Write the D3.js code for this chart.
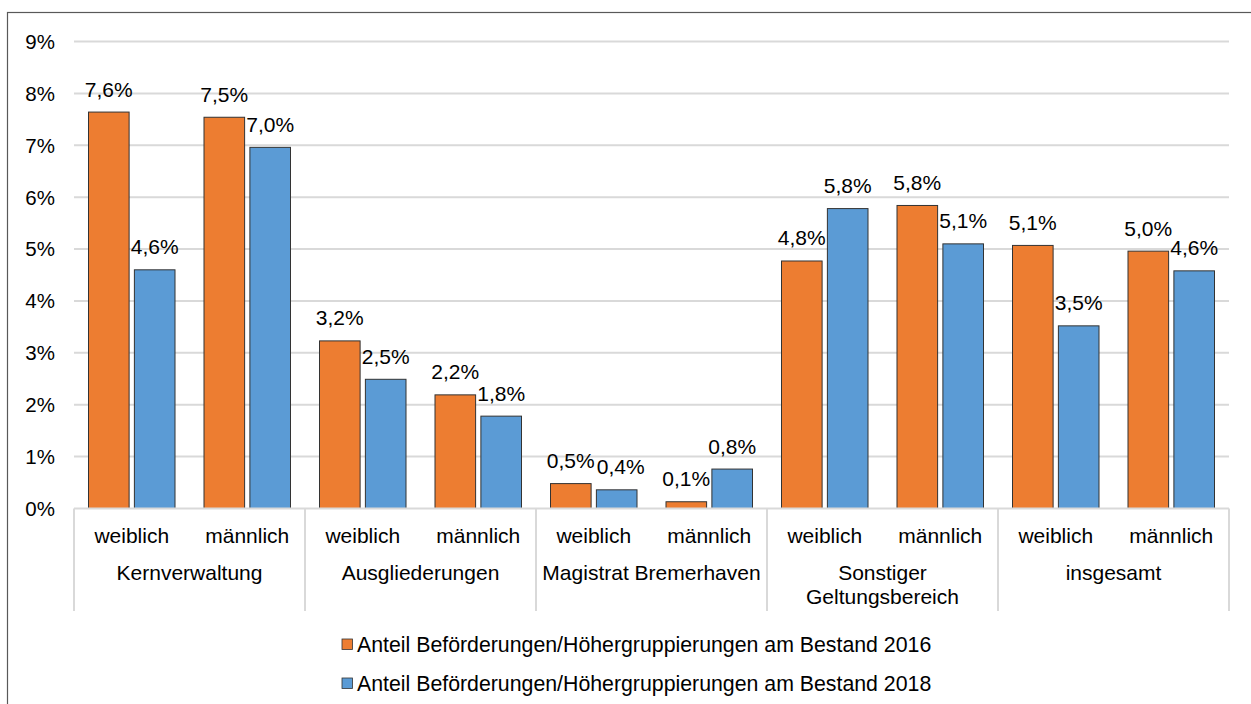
<!DOCTYPE html>
<html><head><meta charset="utf-8">
<script src="https://cdn.jsdelivr.net/npm/d3@7"></script>
<style>html,body{margin:0;padding:0;background:#fff;} text{font-family:Arial,"Liberation Sans",sans-serif;fill:#000;}</style>
</head><body><svg id="c" width="1251" height="704"></svg>
<script>
const groups = ["Kernverwaltung","Ausgliederungen","Magistrat Bremerhaven","Sonstiger\nGeltungsbereich","insgesamt"];
const subs = ["weiblich","männlich"];
const series2016 = [7.64, 7.54, 3.23, 2.19, 0.48, 0.13, 4.77, 5.84, 5.07, 4.96];
const series2018 = [4.60, 6.96, 2.49, 1.78, 0.36, 0.76, 5.78, 5.10, 3.52, 4.58];
const seriesNames = ["Anteil Beförderungen/Höhergruppierungen am Bestand 2016","Anteil Beförderungen/Höhergruppierungen am Bestand 2018"];
const colors = ["#ED7D31","#5B9BD5"];
const yTicks = [0,1,2,3,4,5,6,7,8,9];

const svg = d3.select("#c");
svg.append("rect").attr("width",1251).attr("height",704).attr("fill","#fff");
svg.append("rect").attr("x",7.5).attr("y",12.5).attr("width",1300).attr("height",800)
  .attr("fill","none").attr("stroke","#595959").attr("stroke-width",1.2);

const L=74, R=1229, Y0=508.5, Y9=41.5;
const slots = [];
groups.forEach((g,gi)=>subs.forEach((s,si)=>slots.push(gi+"|"+si)));
const x = d3.scaleBand().domain(slots).range([L,R]).paddingInner(0).paddingOuter(0);
const xg = d3.scaleBand().domain(groups).range([L,R]);
const y = d3.scaleLinear().domain([0,9]).range([Y0,Y9]);
const inner = d3.scaleBand().domain([0,1]).range([14.5, x.bandwidth()-14.5]).paddingInner(0.115);

// gridlines
svg.append("g").selectAll("line").data(yTicks.filter(t=>t>0)).join("line")
  .attr("x1",L).attr("x2",R).attr("y1",d=>y(d)).attr("y2",d=>y(d))
  .attr("stroke","#d9d9d9").attr("stroke-width",2);
// y labels
svg.append("g").selectAll("text").data(yTicks).join("text")
  .attr("x",55).attr("y",d=>y(d)).attr("dy","0.36em").attr("text-anchor","end")
  .attr("font-size",20.5).text(d=>d+"%");

// bars
const fmt = v => d3.format(".1f")(v).replace(".",",")+"%";
[series2016,series2018].forEach((ser,k)=>{
  const g = svg.append("g");
  g.selectAll("rect").data(ser).join("rect")
    .attr("x",(d,i)=>x(slots[i])+inner(k)).attr("width",inner.bandwidth())
    .attr("y",d=>y(d)).attr("height",d=>Y0-y(d))
    .attr("fill",colors[k]).attr("stroke","#333").attr("stroke-width",1);
  g.selectAll("text").data(ser).join("text")
    .attr("x",(d,i)=>x(slots[i])+inner(k)+inner.bandwidth()/2 + ((k===1 && i===4)?4:0))
    .attr("y",d=>y(d)-15.5).attr("text-anchor","middle").attr("font-size",21)
    .text(d=>fmt(d));
});

// axis line & separators
svg.append("line").attr("x1",L).attr("x2",R).attr("y1",Y0).attr("y2",Y0)
  .attr("stroke","#d9d9d9").attr("stroke-width",2);
const seps = groups.map(g=>xg(g)).concat([R]);
svg.append("g").selectAll("line").data(seps).join("line")
  .attr("x1",d=>d).attr("x2",d=>d).attr("y1",Y0).attr("y2",611)
  .attr("stroke","#d9d9d9").attr("stroke-width",2);

// sub labels
svg.append("g").selectAll("text").data(slots).join("text")
  .attr("x",d=>x(d)+x.bandwidth()/2).attr("y",542.5).attr("text-anchor","middle")
  .attr("font-size",21).text(d=>subs[+d.split("|")[1]]);
// group labels
groups.forEach(g=>{
  const lines = g.split("\n");
  const t = svg.append("text").attr("x",xg(g)+xg.bandwidth()/2).attr("y",580)
    .attr("text-anchor","middle").attr("font-size",21);
  lines.forEach((ln,i)=>t.append("tspan").attr("x",xg(g)+xg.bandwidth()/2).attr("dy",i?24:0).text(ln));
});

// legend
const lg = svg.append("g").selectAll("g").data(seriesNames).join("g")
  .attr("transform",(d,i)=>`translate(342,${639+i*39})`);
lg.append("rect").attr("width",10.5).attr("height",10.5)
  .attr("fill",(d,i)=>colors[i]).attr("stroke","#333").attr("stroke-width",0.8);
lg.append("text").attr("x",15).attr("y",12.5).attr("font-size",21.3).text(d=>d);
</script></body></html>
